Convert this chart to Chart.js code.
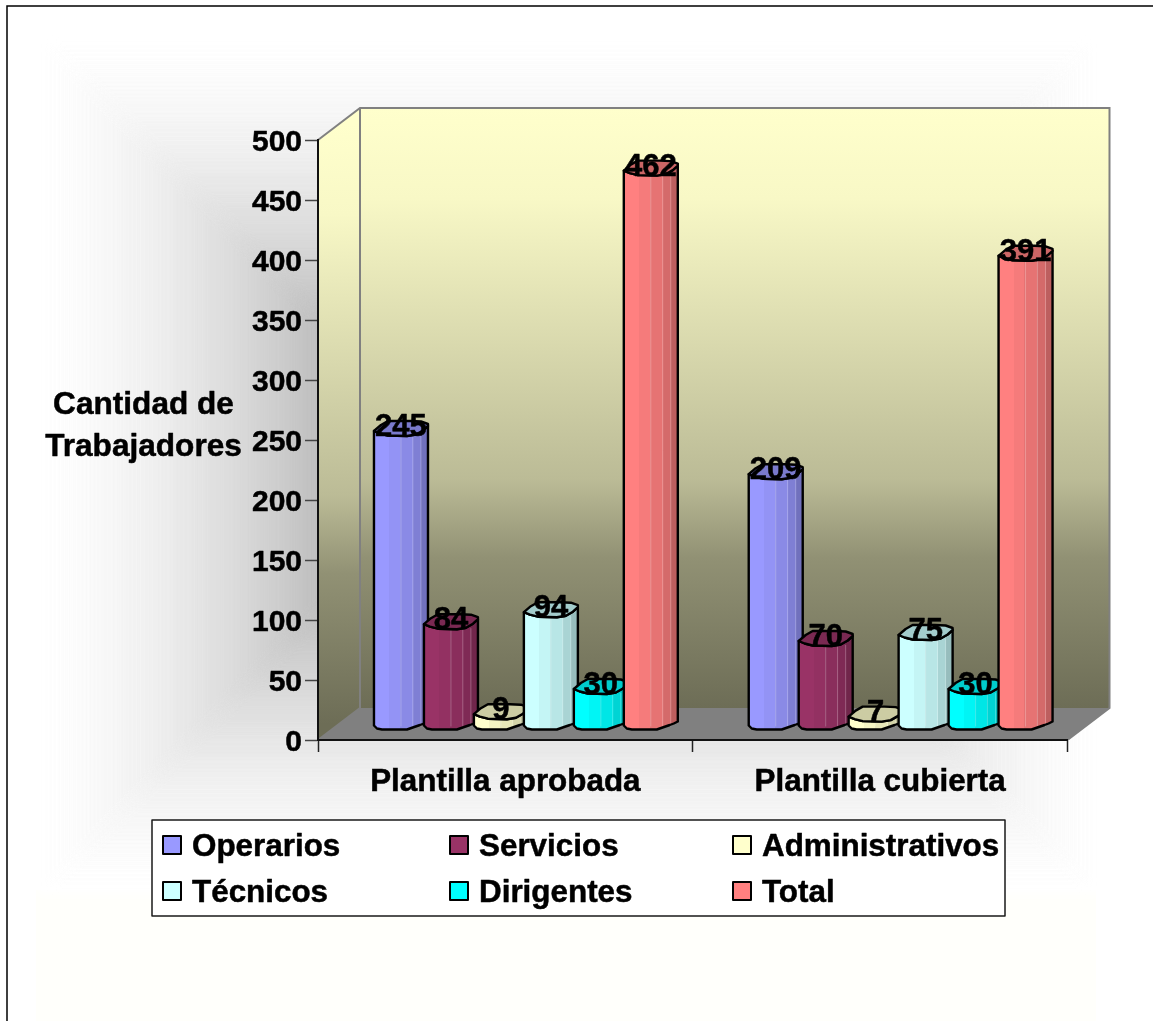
<!DOCTYPE html>
<html lang="es">
  <head>
    <meta charset="UTF-8" />
    <title>Cantidad de Trabajadores</title>
    <style>
      html, body { margin: 0; padding: 0; background: #fff; }
      canvas { display: block; }
    </style>
  </head>
  <body>
    <canvas id="myChart" width="1153" height="1021"></canvas>

    <script src="https://cdn.jsdelivr.net/npm/chart.js@4/dist/chart.umd.js"></script>

    <!--Chart data-->
    <script>
      var categories = ["Plantilla aprobada", "Plantilla cubierta"];
      var seriesNames = ["Operarios", "Servicios", "Administrativos", "Técnicos", "Dirigentes", "Total"];
      var operarios = [245, 209];
      var servicios = [84, 70];
      var administrativos = [9, 7];
      var tecnicos = [94, 75];
      var dirigentes = [30, 30];
      var total = [462, 391];
      var seriesColors = ["#9999ff", "#993366", "#ffffcc", "#ccffff", "#00ffff", "#ff8080"];
      var axisTitle = ["Cantidad de", "Trabajadores"];
    </script>

    <script>
      var seriesValues = [operarios, servicios, administrativos, tecnicos, dirigentes, total];
      var fontFamily = "'Liberation Sans', Arial, sans-serif";

      // how far the back wall sits behind the front edge of the floor
      var wallDx = 42;
      var wallDy = 32;
      // the columns stand in the middle of the floor
      var barDx = 18.5;
      var barDy = 10;
      var barWidth = 54;

      // outline of a column, measured from its left edge
      var footOutline = [[54, -8], [50, -6], [46, -4.5], [33, 0], [8, 0], [3, -1], [0, -4]];
      var rimOutline = [[0, -5], [6, -2.5], [14, -0.5], [33, 0], [42, -1.5], [49, -5.5], [54, -10]];
      var lidBack = [[54, -12], [47, -14.5], [36, -15], [14, -15], [7, -11]];
      var facets = [[0, 1], [0.28, 0.96], [0.48, 0.9], [0.72, 0.83], [0.87, 0.74]];
      var seams = [0.5, 0.72, 0.87];

      function shade(hex, k) {
        var r = parseInt(hex.substr(1, 2), 16) * k;
        var g = parseInt(hex.substr(3, 2), 16) * k;
        var b = parseInt(hex.substr(5, 2), 16) * k;
        return "rgb(" + Math.round(r) + "," + Math.round(g) + "," + Math.round(b) + ")";
      }

      function boldText(ctx, text, x, y, size) {
        ctx.font = "bold " + size + "px " + fontFamily;
        ctx.fillStyle = "#000000";
        ctx.strokeStyle = "#000000";
        ctx.lineWidth = 0.5;
        ctx.fillText(text, x, y);
        ctx.strokeText(text, x, y);
      }

      function backdropGrey(d) {
        // grey drop against the distance from the outer rectangle
        var drop = 60 * Math.pow(d / 280, 1.7);
        var v = Math.round(255 - Math.min(drop, 110));
        return "rgb(" + v + "," + v + "," + v + ")";
      }

      function drawBackdrop(ctx, w, h) {
        ctx.fillStyle = "#ffffff";
        ctx.fillRect(0, 0, w, h);
        ctx.fillStyle = "#fffffb";
        ctx.fillRect(36, 890, 1060, h - 890);
        var left = 30, top = 30, right = 1108, bottom = 900;
        ctx.save();
        ctx.filter = "blur(6px)";
        for (var d = 6; d < 430; d += 4) {
          ctx.fillStyle = backdropGrey(d);
          ctx.fillRect(left + d, top + d, right - left - 2 * d, bottom - top - 2 * d);
        }
        ctx.restore();
        // page frame
        ctx.strokeStyle = "#000000";
        ctx.lineWidth = 1.5;
        ctx.beginPath();
        ctx.moveTo(7, h);
        ctx.lineTo(7, 6);
        ctx.lineTo(w, 6);
        ctx.stroke();
      }

      function wallGradient(ctx, y0, y1) {
        var g = ctx.createLinearGradient(0, y0, 0, y1);
        g.addColorStop(0, "#ffffcc");
        g.addColorStop(0.15, "#f8f8c6");
        g.addColorStop(0.4, "#d8d8ad");
        g.addColorStop(0.62, "#bbbb96");
        g.addColorStop(0.75, "#919174");
        g.addColorStop(1, "#6d6d56");
        return g;
      }

      function poly(ctx, pts) {
        ctx.beginPath();
        pts.forEach(function (p, i) {
          if (i === 0) ctx.moveTo(p[0], p[1]);
          else ctx.lineTo(p[0], p[1]);
        });
        ctx.closePath();
      }

      function drawWalls(chart) {
        var ctx = chart.ctx;
        var a = chart.chartArea;
        var backTop = a.top - wallDy, backBottom = a.bottom - wallDy;
        var backLeft = a.left + wallDx, backRight = a.right + wallDx;

        ctx.fillStyle = wallGradient(ctx, backTop, backBottom);
        ctx.fillRect(backLeft, backTop, backRight - backLeft, backBottom - backTop);
        ctx.fillStyle = wallGradient(ctx, a.top - wallDy / 2, a.bottom - wallDy / 2);
        poly(ctx, [[a.left, a.top], [backLeft, backTop], [backLeft, backBottom], [a.left, a.bottom]]);
        ctx.fill();
        ctx.fillStyle = "#808080";
        poly(ctx, [[a.left, a.bottom], [backLeft, backBottom], [backRight, backBottom], [a.right, a.bottom]]);
        ctx.fill();

        ctx.strokeStyle = "#808080";
        ctx.lineWidth = 2;
        ctx.beginPath();
        ctx.moveTo(a.left, a.top);
        ctx.lineTo(backLeft, backTop);
        ctx.lineTo(backRight, backTop);
        ctx.lineTo(backRight, backBottom);
        ctx.lineTo(a.right, a.bottom);
        ctx.moveTo(backLeft, backTop);
        ctx.lineTo(backLeft, backBottom);
        ctx.lineTo(a.left, a.bottom);
        ctx.stroke();
      }

      function drawColumn(ctx, el, color) {
        var x0 = el.x - el.width / 2 + barDx;
        var yTop = el.y - barDy;
        var yBase = el.base - barDy;

        var body = [];
        footOutline.forEach(function (p) { body.push([x0 + p[0], yBase + p[1]]); });
        rimOutline.forEach(function (p) { body.push([x0 + p[0], yTop + p[1]]); });

        var grad = ctx.createLinearGradient(x0, 0, x0 + barWidth, 0);
        facets.forEach(function (f, i) {
          var end = i + 1 < facets.length ? facets[i + 1][0] : 1;
          grad.addColorStop(f[0], shade(color, f[1]));
          grad.addColorStop(end, shade(color, f[1]));
        });

        ctx.lineJoin = "round";
        poly(ctx, body);
        ctx.fillStyle = grad;
        ctx.fill();

        // faint seams between the facets
        ctx.strokeStyle = "rgba(255,255,255,0.25)";
        ctx.lineWidth = 1;
        seams.forEach(function (f) {
          ctx.beginPath();
          ctx.moveTo(x0 + barWidth * f, yTop - 1);
          ctx.lineTo(x0 + barWidth * f, yBase - 3);
          ctx.stroke();
        });

        ctx.strokeStyle = "#000000";
        ctx.lineWidth = 2.4;
        poly(ctx, body);
        ctx.stroke();

        var lid = [];
        rimOutline.concat(lidBack).forEach(function (p) { lid.push([x0 + p[0], yTop + p[1]]); });
        poly(ctx, lid);
        ctx.fillStyle = shade(color, 0.8);
        ctx.fill();
        ctx.stroke();
      }

      function drawValueLabels(chart) {
        var ctx = chart.ctx;
        ctx.textAlign = "center";
        ctx.textBaseline = "alphabetic";
        chart.data.datasets.forEach(function (ds, i) {
          chart.getDatasetMeta(i).data.forEach(function (el, j) {
            var x0 = el.x - el.width / 2 + barDx;
            boldText(ctx, String(ds.data[j]), x0 + 27, el.y - barDy, 31);
          });
        });
      }

      // value axis numbers, placed from the scale with the baseline under the tick
      function drawValueTicks(chart) {
        var ctx = chart.ctx;
        var scale = chart.scales.y;
        ctx.textAlign = "right";
        ctx.textBaseline = "alphabetic";
        scale.ticks.forEach(function (t) {
          boldText(ctx, String(t.value), 302, scale.getPixelForValue(t.value) + 10.5, 30);
        });
      }

      function drawAxisTitle(chart) {
        var ctx = chart.ctx;
        ctx.textAlign = "center";
        ctx.textBaseline = "alphabetic";
        boldText(ctx, axisTitle[0], 143.5, 414, 31.6);
        boldText(ctx, axisTitle[1], 143.5, 456, 31.6);
      }

      function drawLegend(chart) {
        var ctx = chart.ctx;
        ctx.fillStyle = "#ffffff";
        ctx.fillRect(152, 820, 853, 96);
        ctx.strokeStyle = "#1a1a1a";
        ctx.lineWidth = 1.5;
        ctx.strokeRect(152, 820, 853, 96);

        var colX = [163, 450, 733];
        var rowY = [836, 882];
        ctx.textAlign = "left";
        ctx.textBaseline = "alphabetic";
        chart.data.datasets.forEach(function (ds, i) {
          var x = colX[i % 3];
          var y = rowY[Math.floor(i / 3)];
          ctx.fillStyle = ds.backgroundColor;
          ctx.fillRect(x, y, 18, 18);
          ctx.strokeStyle = "#000000";
          ctx.lineWidth = 2;
          ctx.strokeRect(x, y, 18, 18);
          boldText(ctx, ds.label, x + 29, y + 19.5, 31.4);
        });
      }

      var column3d = {
        id: "column3d",
        beforeDraw: function (chart) {
          drawBackdrop(chart.ctx, chart.width, chart.height);
          drawWalls(chart);
        },
        // the columns are painted together below, left to right
        beforeDatasetDraw: function () {
          return false;
        },
        afterDatasetsDraw: function (chart) {
          var ctx = chart.ctx;
          ctx.save();
          chart.data.datasets.forEach(function (ds, i) {
            chart.getDatasetMeta(i).data.forEach(function (el) {
              drawColumn(ctx, el, ds.backgroundColor);
            });
          });
          drawValueLabels(chart);
          drawValueTicks(chart);
          drawAxisTitle(chart);
          drawLegend(chart);
          ctx.restore();
        },
      };

      var datasets = seriesNames.map(function (name, i) {
        return {
          label: name,
          data: seriesValues[i],
          backgroundColor: seriesColors[i],
          categoryPercentage: 0.8,
          barPercentage: 1,
        };
      });

      new Chart(document.getElementById("myChart").getContext("2d"), {
        type: "bar",
        data: { labels: categories, datasets: datasets },
        plugins: [column3d],
        options: {
          responsive: false,
          animation: false,
          layout: { padding: { left: 0, top: 140, right: 85.5, bottom: 0 } },
          plugins: { legend: { display: false }, tooltip: { enabled: false } },
          scales: {
            x: {
              afterFit: function (scale) { scale.height = 281; },
              border: { color: "#111111", width: 2 },
              grid: { drawOnChartArea: false, drawTicks: true, tickLength: 12, tickColor: "#222222", tickWidth: 1.5 },
              ticks: {
                color: "#000000",
                font: { family: fontFamily, size: 31.4, weight: "bold" },
                textStrokeColor: "#000000",
                textStrokeWidth: 0.5,
                padding: 12,
                maxRotation: 0,
                minRotation: 0,
                autoSkip: false,
              },
            },
            y: {
              min: 0,
              max: 500,
              afterFit: function (scale) { scale.width = 318; },
              border: { color: "#111111", width: 2 },
              grid: { drawOnChartArea: false, drawTicks: true, tickLength: 13, tickColor: "#444444", tickWidth: 1.5 },
              ticks: { stepSize: 50, display: false },
            },
          },
        },
      });
    </script>
  </body>
</html>
